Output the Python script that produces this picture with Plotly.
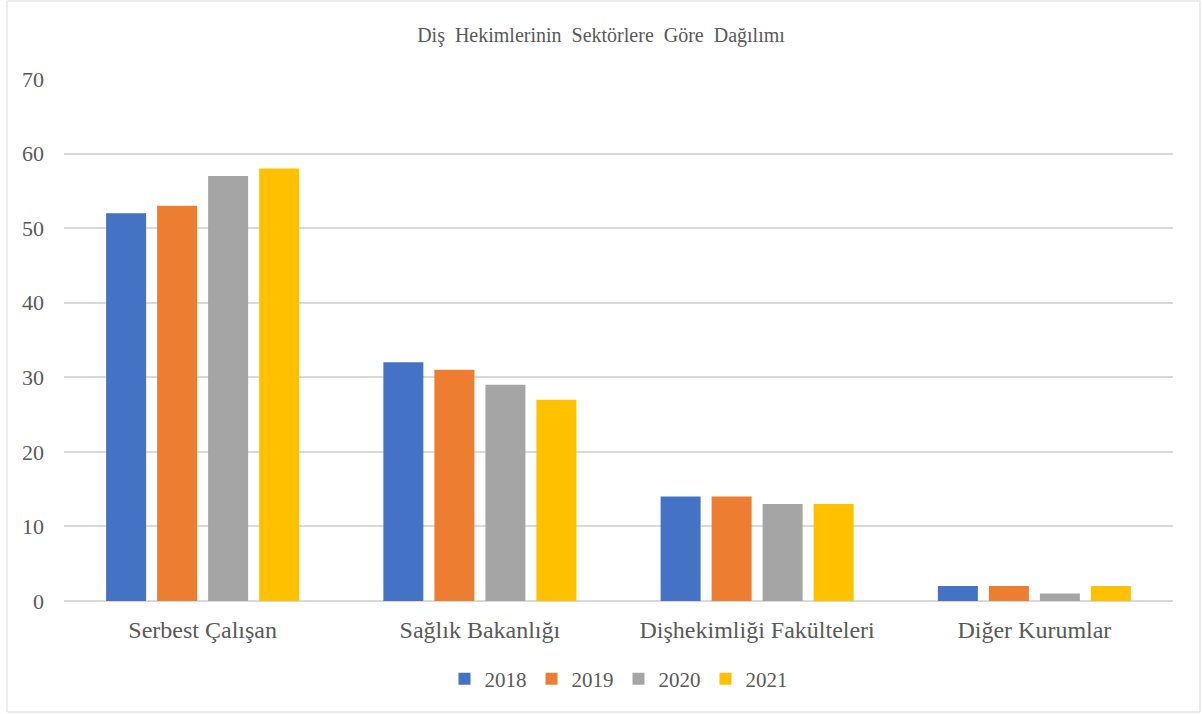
import plotly.graph_objects as go

categories = ["Serbest Çalışan", "Sağlık Bakanlığı", "Dişhekimliği Fakülteleri", "Diğer Kurumlar"]
years = ["2018", "2019", "2020", "2021"]
v2018 = [52, 32, 14, 2]
v2019 = [53, 31, 14, 2]
v2020 = [57, 29, 13, 1]
v2021 = [58, 27, 13, 2]
series = [v2018, v2019, v2020, v2021]
colors = ["#4472C4", "#ED7D31", "#A5A5A5", "#FFC000"]
title_text = "Diş Hekimlerinin Sektörlere Göre Dağılımı"

W, H = 1202, 714
L, R, T, B = 64, 29, 79, 113
pw, ph = W - L - R, H - T - B

fig = go.Figure()
for y, vals, c in zip(years, series, colors):
    fig.add_trace(go.Bar(name=y, x=categories, y=vals, marker_color=c, marker_line_width=0))

font = "Liberation Serif"
txt = "#595959"

# outer border
bx0, bx1, by0, by1 = 7, 1200, 1, 712
fig.add_shape(type="rect", xref="paper", yref="paper",
              x0=(bx0 - L) / pw, x1=(bx1 - L) / pw,
              y0=(H - B - by1) / ph, y1=(H - B - by0) / ph,
              line=dict(color="#D9D9D9", width=1), layer="below")

fig.update_layout(
    width=W, height=H,
    margin=dict(l=L, r=R, t=T, b=B),
    paper_bgcolor="white", plot_bgcolor="white",
    barmode="group", bargap=0.264, bargroupgap=0.216,
    font=dict(family=font, color=txt, size=21),
    title=dict(text=title_text.replace(" ", "\u00a0 "), x=0.5, xanchor="center",
               y=1 - 35 / H, yanchor="middle", font=dict(size=20, color=txt, family=font)),
    xaxis=dict(showgrid=False, showline=False, ticks="", tickfont=dict(size=24), ticklabelstandoff=12),
    yaxis=dict(range=[0, 70], dtick=10, gridcolor="#D9D9D9", gridwidth=1.5, zeroline=True,
               zerolinecolor="#D9D9D9", zerolinewidth=1.5, showline=False, ticks="",
               tickfont=dict(size=22), ticklabelstandoff=19),
    legend=dict(orientation="h", x=0.5, xanchor="center", y=(601 - 679) / ph, yanchor="middle",
                font=dict(size=21), itemwidth=30, traceorder="normal"),
    showlegend=True,
)

fig.write_html("out.html")
